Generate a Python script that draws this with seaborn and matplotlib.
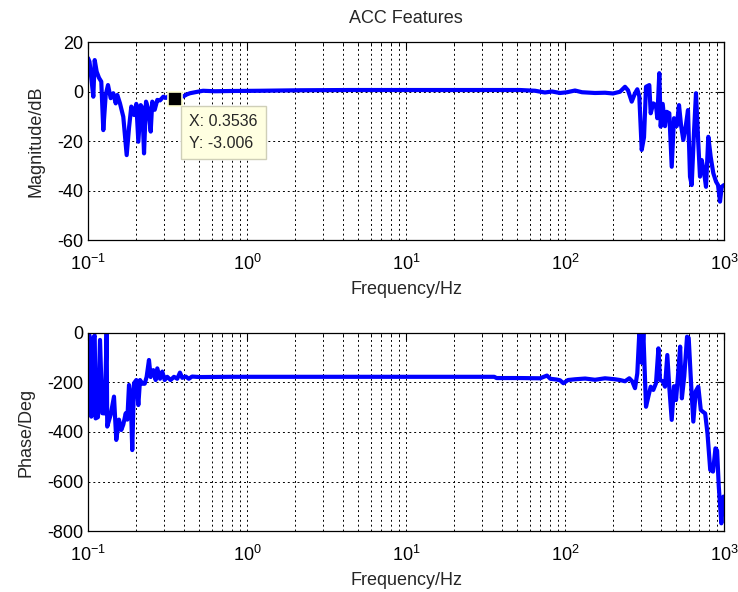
import numpy as np
import pandas as pd
import matplotlib
matplotlib.use("Agg")
import matplotlib.pyplot as plt
import seaborn as sns
from matplotlib.ticker import LogLocator, FixedLocator, FuncFormatter

# ---------------- data ----------------
mag_freq = [0.1000, 0.1022, 0.1049, 0.1080, 0.1102, 0.1134, 0.1173, 0.1212, 0.1248, 0.1292,
            0.1336, 0.1389, 0.1442, 0.1494, 0.1529, 0.1589, 0.1667, 0.1751, 0.1811, 0.1872,
            0.1947, 0.2013, 0.2073, 0.2145, 0.2196, 0.2251, 0.2317, 0.2394, 0.2479, 0.2537,
            0.2627, 0.2728, 0.2837, 0.2976, 0.3095, 0.3231, 0.3376, 0.3536, 0.3719, 0.3976,
            0.4176, 0.4380, 0.4710, 0.5289, 0.6292, 0.7817, 1.208, 2.154, 4.445, 9.17,
            16.36, 25.27, 52.1, 64.8, 74.8, 82.8, 93.0, 103.0, 115.6, 127.9,
            154.4, 178.5, 200.4, 221.8, 238.4, 249.0, 262.8, 275.6, 284.9, 293.3,
            303.7, 314.0, 323.2, 339.0, 345.9, 359.2, 373.5, 380.6, 391.8, 399.8,
            411.6, 425.6, 436.2, 452.9, 469.0, 484.9, 504.2, 521.3, 536.6, 554.7,
            574.3, 593.7, 611.2, 626.4, 647.5, 666.6, 689.2, 706.4, 724.0, 748.5,
            770.6, 796.8, 825.0, 856.6, 890.8, 917.0, 943.9, 967.4, 1000.0]
mag_db = [13.5, 12.0, 5.5, -2.1, 12.7, 8.0, 5.5, 4.0, -15.6, -1.4,
          2.6, -2.7, -0.7, -4.8, -1.4, -4.8, -10.2, -25.7, -14.7, -6.1,
          -9.5, -5.0, -20.3, -5.5, -6.5, -25.0, -4.1, -7.0, -16.2, -4.1,
          -7.4, -3.4, -3.6, -2.1, -2.6, -1.8, -2.8, -3.006, -1.8, -2.0,
          -1.2, -0.7, -0.3, 0.3, 0.1, 0.2, 0.3, 0.5, 0.6, 0.6,
          0.6, 0.6, 0.6, 0.3, -0.4, 0.0, -0.6, -0.3, 0.4, -0.3,
          -0.6, -0.5, -0.8, -0.1, 1.9, 0.5, -4.1, -0.7, 0.9, -2.0,
          -23.6, -18.5, 1.9, 2.6, -8.8, -4.8, -5.6, -10.8, 7.4, -14.2,
          -5.0, -14.0, -8.2, -8.8, -30.4, -10.8, -14.0, -5.5, -13.5, -19.6,
          -14.2, -7.5, -34.4, -37.8, -16.5, -0.7, -20.9, -34.4, -27.7, -32.5,
          -38.5, -18.3, -26.5, -33.0, -36.4, -37.8, -44.5, -38.5, -37.8]

ph_freq = [0.1000, 0.1022, 0.1049, 0.1080, 0.1102, 0.1117, 0.1155, 0.1190, 0.1230, 0.1272,
           0.1310, 0.1321, 0.1389, 0.1457, 0.1506, 0.1566, 0.1619, 0.1667, 0.1727, 0.1767,
           0.1811, 0.1855, 0.1898, 0.1947, 0.2013, 0.2073, 0.2124, 0.2196, 0.2273, 0.2338,
           0.2418, 0.2479, 0.2574, 0.2665, 0.2728, 0.2837, 0.2932, 0.3036, 0.3151, 0.3308,
           0.3474, 0.3641, 0.3787, 0.3915, 0.4118, 0.4304, 0.4510, 0.5056, 0.7817, 2.154,
           9.17, 35.9, 37.1, 52.1, 69.7, 77.0, 80.9, 88.5, 93.0, 97.7,
           104.4, 115.6, 133.9, 154.4, 178.5, 206.4, 221.8, 238.4, 253.8, 264.5,
           275.6, 284.9, 293.3, 303.7, 311.1, 323.2, 334.0, 345.9, 359.2, 373.5,
           386.8, 396.0, 411.6, 425.6, 440.0, 452.9, 469.0, 484.9, 499.2, 511.9,
           529.9, 543.3, 562.4, 585.5, 599.7, 622.0, 641.3, 664.4, 689.2, 714.6,
           735.9, 761.0, 787.1, 819.2, 852.9, 883.6, 904.8, 927.3, 962.2, 991.4, 1000.0]
ph_deg = [-5, -10, -338, -20, -10, -345, -340, -28, -324, -325,
          -2, -378, -330, -257, -432, -350, -392, -370, -324, -350,
          -210, -250, -473, -203, -190, -291, -190, -205, -205, -177,
          -109, -178, -150, -190, -143, -185, -156, -190, -177, -190,
          -177, -185, -160, -181, -176, -185, -176, -178, -177, -177,
          -177, -177, -182, -182, -183, -172, -185, -188, -191, -203,
          -190, -187, -184, -189, -183, -187, -190, -195, -183, -195,
          -223, -163, 0, -120, -2, -298, -258, -217, -230, -203,
          -62, -190, -195, -217, -89, -220, -351, -215, -271, -185,
          -55, -264, -175, -15, -20, -215, -358, -235, -217, -311,
          -318, -325, -405, -553, -560, -466, -475, -621, -769, -661, -690]

tip_x = 0.3536
tip_y = -3.006

mag_yticks = [20, 0, -20, -40, -60]
ph_yticks = [0, -200, -400, -600, -800]

# ---------------- style ----------------
sns.set_style("white")
plt.rcParams["font.family"] = ["Liberation Sans", "DejaVu Sans"]
plt.rcParams["mathtext.default"] = "regular"
plt.rcParams["axes.unicode_minus"] = False

fig = plt.figure(figsize=(7.38, 5.92), dpi=100)
ax1 = fig.add_axes([88 / 738, 1 - 240 / 592, 636 / 738, 198 / 592])
ax2 = fig.add_axes([88 / 738, 1 - 531 / 592, 636 / 738, 198 / 592])

df_mag = pd.DataFrame({"f": mag_freq, "m": mag_db})
df_ph = pd.DataFrame({"f": ph_freq, "p": ph_deg})

sns.lineplot(data=df_mag, x="f", y="m", ax=ax1, color="#0000FF", linewidth=3.0,
             estimator=None, legend=False)
sns.lineplot(data=df_ph, x="f", y="p", ax=ax2, color="#0000FF", linewidth=3.0,
             estimator=None, legend=False)


def fmt_pow(v, pos):
    e = int(round(np.log10(v)))
    return r"$10^{%d}$" % e


for ax, yt, ylab in [(ax1, mag_yticks, "Magnitude/dB"), (ax2, ph_yticks, "Phase/Deg")]:
    ax.set_xscale("log")
    ax.set_xlim(0.1, 1000)
    ax.set_ylim(min(yt), max(yt))
    ax.yaxis.set_major_locator(FixedLocator(yt))
    ax.xaxis.set_major_locator(LogLocator(base=10, numticks=10))
    ax.xaxis.set_minor_locator(LogLocator(base=10, subs=np.arange(2, 10), numticks=20))
    ax.xaxis.set_major_formatter(FuncFormatter(fmt_pow))
    ax.grid(True, which="major", linestyle=(0, (2, 3)), color="black", linewidth=0.7)
    ax.xaxis.grid(True, which="minor", linestyle=(0, (2, 3)), color="black", linewidth=0.7)
    ax.tick_params(which="both", direction="in", top=True, right=True, labelsize=13,
                   colors="black")
    ax.tick_params(which="major", length=5, width=0.8)
    ax.tick_params(which="minor", length=3, width=0.6)
    ax.tick_params(axis="x", pad=10)
    for s in ax.spines.values():
        s.set_color("black")
        s.set_linewidth(0.9)
    ax.set_xlabel("Frequency/Hz", fontsize=13, labelpad=5)
    ax.set_ylabel(ylab, fontsize=13, labelpad=9)

ax1.set_title("ACC Features", fontsize=13, pad=14)

# data tip
ax1.plot([tip_x], [tip_y], marker="s", markersize=10, color="black",
         markeredgecolor="#FFFFD0", markeredgewidth=1.2, zorder=5)
ax1.annotate("X: %.4f\nY: %.3f" % (tip_x, tip_y), xy=(tip_x, tip_y),
             xytext=(14, -15), textcoords="offset pixels", ha="left", va="top",
             fontsize=11.5, linespacing=1.6,
             bbox=dict(boxstyle="square,pad=0.5", fc="#FFFFE1", ec="#CFCFB8", lw=1.0),
             zorder=6)

fig.savefig("out.png", dpi=100, facecolor="white")
